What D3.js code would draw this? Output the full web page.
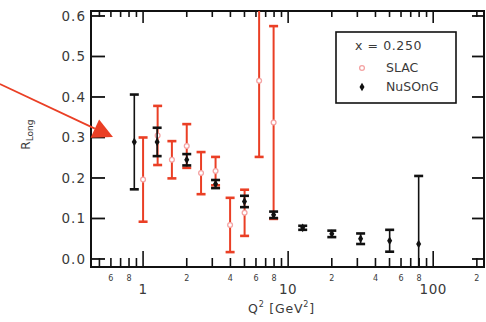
<!DOCTYPE html>
<html>
<head>
<meta charset="utf-8">
<script src="https://cdn.jsdelivr.net/npm/d3@7"></script>
<style>
  html, body { margin: 0; padding: 0; background: #fff; }
  svg { display: block; }
  text { font-family: "DejaVu Sans", Verdana, sans-serif; fill: #3a3a3a; }
</style>
</head>
<body>
<svg id="chart" width="486" height="322"></svg>
<script>
// R_Long vs Q^2 at x = 0.250: SLAC measurements and NuSOnG projections
const slacQ2  = [1.0, 1.26, 1.58, 2.0, 2.51, 3.16, 3.98, 5.01, 6.31, 7.94];
const slacR   = [0.196, 0.305, 0.245, 0.279, 0.212, 0.217, 0.084, 0.114, 0.440, 0.337];
const slacErr = [0.104, 0.073, 0.046, 0.054, 0.052, 0.035, 0.067, 0.057, 0.188, 0.238];

const nusongQ2  = [0.87, 1.25, 2.0, 3.16, 5.0, 7.94, 12.6, 20.0, 31.6, 50.1, 79.4];
const nusongR   = [0.289, 0.289, 0.245, 0.185, 0.142, 0.109, 0.077, 0.062, 0.050, 0.045, 0.037];
const nusongErr = [0.117, 0.035, 0.014, 0.010, 0.014, 0.008, 0.005, 0.008, 0.013, 0.027, 0.168];

const yTicks = [0.0, 0.1, 0.2, 0.3, 0.4, 0.5, 0.6];
const xMajor = [1, 10, 100];
const xMinorLabeled = [2, 4, 6, 8];
const legendTitle = "x = 0.250";
const seriesNames = ["SLAC", "NuSOnG"];

const M = { left: 91, right: 484, top: 11, bottom: 267 };

const x = d3.scaleLog().domain([0.4375, 224]).range([M.left, M.right]);
const y = d3.scaleLinear().domain([-0.0198, 0.6123]).range([M.bottom, M.top]);

const svg = d3.select("#chart");
const red = "#ea3f25";
const pink = "#f4a3a3";
const ink = "#111";

svg.append("defs").append("clipPath").attr("id", "plotClip")
  .append("rect")
  .attr("x", M.left).attr("y", M.top)
  .attr("width", M.right - M.left).attr("height", M.bottom - M.top);

// every 1..9 x 10^k tick that falls inside the log domain
const [x0, x1] = x.domain();
const xTicks = [];
for (let dec = 0.1; dec <= 1000; dec *= 10) {
  for (let m = 1; m <= 9; m++) {
    const v = +(m * dec).toPrecision(3);
    if (v >= x0 && v <= x1) xTicks.push({ v, m });
  }
}

const axes = svg.append("g").attr("stroke", ink).attr("fill", "none");

// bottom and top ticks (inward)
xTicks.forEach(t => {
  const px = x(t.v);
  const major = t.m === 1;
  axes.append("line").attr("x1", px).attr("x2", px)
    .attr("y1", M.bottom).attr("y2", M.bottom - (major ? 16 : 9))
    .attr("stroke-width", 1.6);
  axes.append("line").attr("x1", px).attr("x2", px)
    .attr("y1", M.top).attr("y2", M.top + (major ? 12 : 6))
    .attr("stroke-width", 1.6);
});

// left and right ticks (inward)
yTicks.forEach(v => {
  axes.append("line").attr("x1", M.left).attr("x2", M.left + 14)
    .attr("y1", y(v)).attr("y2", y(v)).attr("stroke-width", 1.8);
  axes.append("line").attr("x1", M.right).attr("x2", M.right - 12)
    .attr("y1", y(v)).attr("y2", y(v)).attr("stroke-width", 1.8);
});

// frame
axes.append("rect")
  .attr("x", M.left).attr("y", M.top)
  .attr("width", M.right - M.left).attr("height", M.bottom - M.top)
  .attr("stroke-width", 2);

// y tick labels
svg.append("g").selectAll("text").data(yTicks).join("text")
  .attr("x", M.left - 5).attr("y", d => y(d))
  .attr("dy", "0.36em").attr("text-anchor", "end")
  .attr("font-size", 13.5).attr("letter-spacing", 1)
  .text(d => d.toFixed(1));

// x tick labels: small minor digits, larger decade labels
svg.append("g").selectAll("text")
  .data(xTicks.filter(t => xMinorLabeled.includes(t.m))).join("text")
  .attr("x", d => x(d.v)).attr("y", 281)
  .attr("text-anchor", "middle").attr("font-size", 8)
  .text(d => d.m);
svg.append("g").selectAll("text").data(xMajor).join("text")
  .attr("x", d => x(d)).attr("y", 294)
  .attr("text-anchor", "middle").attr("font-size", 13.5).attr("letter-spacing", 0.5)
  .text(d => d);

// axis titles
const xt = svg.append("text").attr("x", 248).attr("y", 313)
  .attr("font-size", 12.5).attr("letter-spacing", 0.8);
xt.append("tspan").text("Q");
xt.append("tspan").attr("font-size", 8).attr("dy", -6).text("2");
xt.append("tspan").attr("dy", 6).text(" [GeV");
xt.append("tspan").attr("font-size", 8).attr("dy", -6).text("2");
xt.append("tspan").attr("dy", 6).text("]");

const yt = svg.append("text")
  .attr("transform", `translate(30,${y(0.27)}) rotate(-90)`)
  .attr("font-size", 12);
yt.append("tspan").text("R");
yt.append("tspan").attr("font-size", 9).attr("dy", 3).text("Long");

// data layer
const plot = svg.append("g").attr("clip-path", "url(#plotClip)");

function errorBars(g, xs, vs, es, color, width, capHalf, capWidth) {
  xs.forEach((q, i) => {
    const px = x(q), top = y(vs[i] + es[i]), bot = y(vs[i] - es[i]);
    g.append("line").attr("x1", px).attr("x2", px).attr("y1", top).attr("y2", bot)
      .attr("stroke", color).attr("stroke-width", width);
    [top, bot].forEach(py => g.append("line")
      .attr("x1", px - capHalf).attr("x2", px + capHalf).attr("y1", py).attr("y2", py)
      .attr("stroke", color).attr("stroke-width", capWidth));
  });
}

const slacG = plot.append("g");
errorBars(slacG, slacQ2, slacR, slacErr, red, 2, 4.5, 2.6);
slacG.selectAll("circle").data(slacQ2).join("circle")
  .attr("cx", d => x(d)).attr("cy", (d, i) => y(slacR[i])).attr("r", 2.4)
  .attr("fill", "#fff").attr("stroke", pink).attr("stroke-width", 1.3);

const nuG = plot.append("g");
errorBars(nuG, nusongQ2, nusongR, nusongErr, ink, 1.6, 4.5, 2.6);
const diamond = d3.symbol().type(d3.symbolDiamond).size(22);
nuG.selectAll("path.pt").data(nusongQ2).join("path").attr("class", "pt")
  .attr("transform", (d, i) => `translate(${x(d)},${y(nusongR[i])})`)
  .attr("d", diamond).attr("fill", ink);

// legend
const lg = svg.append("g");
lg.append("rect").attr("x", 336).attr("y", 32).attr("width", 120).attr("height", 71)
  .attr("fill", "#fff").attr("stroke", ink).attr("stroke-width", 1.6);
lg.append("text").attr("x", 355).attr("y", 50).attr("font-size", 12.5).attr("letter-spacing", 0.6)
  .text(legendTitle);
lg.append("circle").attr("cx", 362).attr("cy", 68).attr("r", 2.4)
  .attr("fill", "#fff").attr("stroke", pink).attr("stroke-width", 1.3);
lg.append("text").attr("x", 386).attr("y", 72).attr("font-size", 12.5).text(seriesNames[0]);
lg.append("path").attr("transform", "translate(362,87)").attr("d", diamond).attr("fill", ink);
lg.append("text").attr("x", 386).attr("y", 91).attr("font-size", 12.5).text(seriesNames[1]);

// pointer arrow toward the low-Q2 region
const aStart = [x(0.103), y(0.432)];
const aTip = [x(0.62), y(0.301)];
const ang = Math.atan2(aTip[1] - aStart[1], aTip[0] - aStart[0]);
const headLen = 20, headHalf = 10;
const base = [aTip[0] - headLen * Math.cos(ang), aTip[1] - headLen * Math.sin(ang)];
svg.append("line")
  .attr("x1", aStart[0]).attr("y1", aStart[1]).attr("x2", base[0]).attr("y2", base[1])
  .attr("stroke", red).attr("stroke-width", 1.8);
svg.append("path")
  .attr("d", d3.line()([
    aTip,
    [base[0] + headHalf * Math.sin(ang), base[1] - headHalf * Math.cos(ang)],
    [base[0] - headHalf * Math.sin(ang), base[1] + headHalf * Math.cos(ang)]
  ]) + "Z")
  .attr("fill", red);
</script>
</body>
</html>
